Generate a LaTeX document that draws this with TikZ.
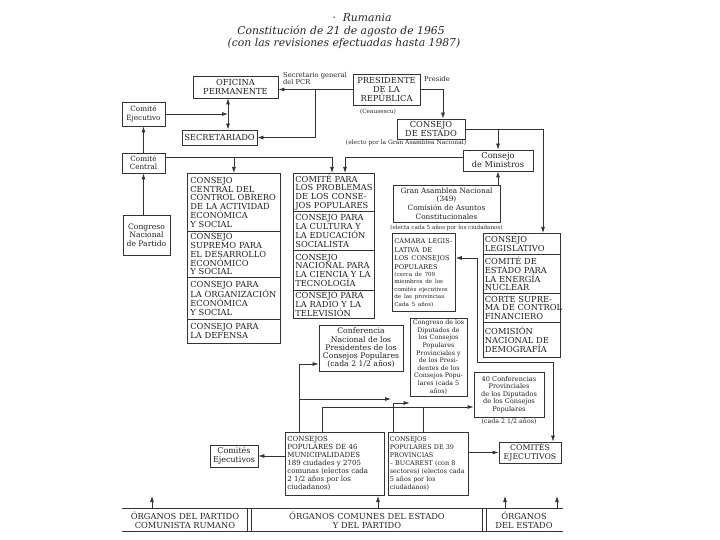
\documentclass[tikz,border=0pt]{standalone}
\usepackage{fontspec}
\setmainfont{DejaVu Serif}
\usetikzlibrary{arrows.meta,calc}
\newcommand\fsz[2]{\fontsize{#1}{#2}\selectfont\hyphenpenalty=10000 \exhyphenpenalty=10000 }
\begin{document}
\begin{tikzpicture}[x=1pt,y=-1pt,
  ln/.style={draw=black!80,line width=0.75pt},
  box/.style={ln,inner sep=0pt,align=center,text=black!88},
  capf/.style={font=\fsz{8.3}{8.8}},
  stk/.style={box,capf,align=left,anchor=north west,inner xsep=3pt,inner ysep=0pt},
  lbl/.style={text=black!85,inner sep=0pt},
  arr/.style={ln,-{Latex[length=6pt,width=4pt]}},
  darr/.style={ln,{Latex[length=6pt,width=4pt]}-{Latex[length=6pt,width=4pt]}},
]
\useasboundingbox (0,0) rectangle (720,540);
\fill[white] (0,0) rectangle (720,540);

% title
\node[lbl,font=\fsz{10.8}{12}\itshape] (t1) at (362,18) {·\ \ Rumania};
\node[lbl,font=\fsz{10.8}{12}\itshape] (t2) at (341,31) {Constitución de 21 de agosto de 1965};
\node[lbl,font=\fsz{10.8}{12}\itshape] (t3) at (344,44) {(con las revisiones efectuadas hasta 1987)};

% top boxes
\node[box,capf,minimum width=85,minimum height=22] (ofi) at (235.5,87) {OFICINA\\PERMANENTE};
\node[box,capf,minimum width=67,minimum height=31] (pres) at (386.5,89.5) {PRESIDENTE\\DE LA\\REPÚBLICA};
\node[box,font=\fsz{7.2}{8.2},minimum width=43,minimum height=24] (comej) at (143.5,114) {Comité\\Ejecutivo};
\node[box,capf,minimum width=75,minimum height=15] (secr) at (219.5,137.5) {SECRETARIADO};
\node[box,font=\fsz{7.2}{8.2},minimum width=43,minimum height=20] (comcen) at (143.5,163) {Comité\\Central};
\node[box,capf,minimum width=68,minimum height=20] (cest) at (431,129) {CONSEJO\\DE ESTADO};
\node[box,font=\fsz{8.2}{9},minimum width=70,minimum height=21] (cmin) at (498,160.5) {Consejo\\de Ministros};
\node[box,font=\fsz{7.3}{8.8},minimum width=107,minimum height=37] (gran) at (446.5,203.5) {Gran Asamblea Nacional\\(349)\\Comisión de Asuntos\\Constitucionales};
\node[box,font=\fsz{7.6}{8.6},minimum width=47,minimum height=40] (cnp) at (146.5,235) {Congreso\\Nacional\\de Partido};

% labels
\node[lbl,font=\fsz{6.7}{7.4},anchor=north west,align=left] (sg) at (283,72) {Secretario general\\del PCR};
\node[lbl,font=\fsz{6.7}{7.4},anchor=west] (presl) at (424,79) {Preside};
\node[lbl,font=\fsz{5.8}{6.5}] (ceau) at (378,112) {(Ceausescu)};
\node[lbl,font=\fsz{6}{7}] (elec) at (406,143) {(electo por la Gran Asamblea Nacional)};
\node[lbl,font=\fsz{5.6}{6.5}] (elga) at (446.5,228) {(electa cada 5 años por los ciudadanos)};

% stack A
\node[stk,text width=87,minimum height=58] (a1) at (187,173) {CONSEJO\\CENTRAL~DEL\\CONTROL~OBRERO\\DE~LA~ACTIVIDAD\\ECONÓMICA\\Y~SOCIAL};
\node[stk,text width=87,minimum height=46] (a2) at (187,231) {CONSEJO\\SUPREMO~PARA\\EL~DESARROLLO\\ECONÓMICO\\Y~SOCIAL};
\node[stk,text width=87,minimum height=42] (a3) at (187,277) {CONSEJO~PARA\\LA~ORGANIZACIÓN\\ECONÓMICA\\Y~SOCIAL};
\node[stk,text width=87,minimum height=24] (a4) at (187,319) {CONSEJO~PARA\\LA~DEFENSA};

% stack B
\node[stk,inner xsep=2pt,text width=77,minimum height=38] (b1) at (293,173) {COMITÉ~PARA\\LOS~PROBLEMAS\\DE~LOS~CONSE-\\JOS~POPULARES};
\node[stk,inner xsep=2pt,text width=77,minimum height=39] (b2) at (293,211) {CONSEJO~PARA\\LA~CULTURA~Y\\LA~EDUCACIÓN\\SOCIALISTA};
\node[stk,inner xsep=2pt,text width=77,minimum height=40] (b3) at (293,250) {CONSEJO\\NACIONAL~PARA\\LA~CIENCIA~Y~LA\\TECNOLOGÍA};
\node[stk,inner xsep=2pt,text width=77,minimum height=28] (b4) at (293,290) {CONSEJO~PARA\\LA~RADIO~Y~LA\\TELEVISIÓN};

% stack C
\node[stk,inner xsep=1.5pt,text width=74,minimum height=21] (c1) at (483,233) {CONSEJO\\LEGISLATIVO};
\node[stk,inner xsep=1.5pt,text width=74,minimum height=39] (c2) at (483,254) {COMITÉ~DE\\ESTADO~PARA\\LA~ENERGÍA\\NUCLEAR};
\node[stk,inner xsep=1.5pt,text width=74,minimum height=29] (c3) at (483,293) {CORTE~SUPRE-\\MA~DE~CONTROL\\FINANCIERO};
\node[stk,inner xsep=1.5pt,text width=74,minimum height=35] (c4) at (483,322) {COMISIÓN\\NACIONAL~DE\\DEMOGRAFÍA};

% camara
\node[stk,inner xsep=2pt,text width=59,minimum height=78] (camara) at (392,233)
  {{\fsz{6.6}{8.4}CÁMARA~LEGIS-\\LATIVA~DE\\LOS~CONSEJOS\\POPULARES\par}{\fsz{5.6}{7.4}(cerca~de~709\\miembros~de~los\\comités~ejecutivos\\de~las~provincias.\\Cada~5~años)\par}};

% conferences
\node[box,font=\fsz{7.7}{8.3},minimum width=84,minimum height=46] (conf) at (361,348) {Conferencia\\Nacional de los\\Presidentes de los\\Consejos Populares\\(cada 2 1/2 años)};
\node[box,font=\fsz{6.3}{7.6},minimum width=57,minimum height=78] (congdip) at (438.5,357) {Congreso de los\\Diputados de\\los Consejos\\Populares\\Provinciales y\\de los Presi-\\dentes de los\\Consejos Popu-\\lares (cada 5\\años)};
\node[box,font=\fsz{6.6}{7.5},minimum width=70,minimum height=45] (conf40) at (509,394.5) {40 Conferencias\\Provinciales\\de los Diputados\\de los Consejos\\Populares};
\node[lbl,font=\fsz{6.3}{7}] (c40l) at (509,422) {(cada 2 1/2 años)};

% consejos populares
\node[stk,font=\fsz{7}{8},inner xsep=2pt,text width=95,minimum height=63] (c46) at (285,432) {CONSEJOS\\POPULARES~DE~46\\MUNICIPALIDADES\\189~ciudades~y~2705\\comunas~(electos~cada\\2~1/2~años~por~los\\ciudadanos)};
\node[stk,font=\fsz{6.4}{8},inner xsep=1.5pt,text width=77,minimum height=63] (c39) at (388,432) {CONSEJOS\\POPULARES~DE~39\\PROVINCIAS\\–~BUCAREST~(con~8\\sectores)~(electos~cada\\5~años~por~los\\ciudadanos)};
\node[box,font=\fsz{8}{9},minimum width=48,minimum height=22] (cejL) at (234,456) {Comités\\Ejecutivos};
\node[box,font=\fsz{7.8}{8.8},minimum width=62,minimum height=21] (cejR) at (530,452.5) {COMITÉS\\EJECUTIVOS};

% bottom band
\node[minimum width=441,minimum height=22,inner sep=0pt] (band) at (342.5,520) {};
\draw[ln] (band.north west) -- (band.north east);
\draw[ln] (band.south west) -- (band.south east);
\draw[ln] (247,509) -- (247,531);
\draw[ln] (251,509) -- (251,531);
\draw[ln] (482,509) -- (482,531);
\draw[ln] (486,509) -- (486,531);
\node[lbl,capf,align=center] (o1) at (185,520) {ÓRGANOS DEL PARTIDO\\COMUNISTA RUMANO};
\node[lbl,capf,align=center] (o2) at (367,520) {ÓRGANOS COMUNES DEL ESTADO\\Y DEL PARTIDO};
\node[lbl,capf,align=center] (o3) at (524,520) {ÓRGANOS\\DEL ESTADO};
\coordinate (u1) at (152,496);
\coordinate (u2) at (378,496);
\coordinate (u3) at (505,496);
\coordinate (u4) at (557,496);
\foreach \u in {u1,u2,u3,u4} \draw[arr] (band.north -| \u) -- (\u);

% connectors top
\coordinate (j1) at (315,89.5);
\draw[arr] (pres.west) -- (ofi.east |- pres.west);
\draw[arr] (j1) |- (secr.east);
\coordinate (dA) at (228,114);
\draw[arr] (comej.east) -- (dA);
\draw[darr] (ofi.south -| dA) -- (secr.north -| dA);
\draw[arr] (comcen.north) -- (comej.south);
\draw[arr] (comcen.south |- cnp.north) -- (comcen.south);
\coordinate (h1) at (332,157);
\draw[arr] (comcen.east |- h1) -| (b1.north -| h1);
\draw[arr] (a1.north |- h1) -- (a1.north);
\coordinate (h2) at (345,157);
\draw[arr] (cmin.west |- h2) -| (b1.north -| h2);
\coordinate (h3) at (443,89.5);
\draw[arr] (pres.east) -- (h3) -- (cest.north -| h3);
\coordinate (h4) at (543,129);
\draw[arr] (cest.east) -- (h4) -- (c1.north -| h4);
\draw[arr] (cmin.north |- cest.east) -- (cmin.north);
\draw[arr] (cmin.south |- gran.north) -- (cmin.south);

% camara / comites path
\coordinate (yk) at (0,258);
\coordinate (k1) at (477,362);
\coordinate (k2) at (553,362);
\draw[darr] (camara.east |- yk) -| (k1) -- (k2) -- (cejR.north -| k2);

% lower connectors
\coordinate (m1) at (299,364);
\draw[arr] (c46.north -| m1) -- (m1) -- (conf.west |- m1);
\coordinate (m2) at (299,399);
\coordinate (m3) at (391,399);
\draw[arr] (m2) -- (m3);
\coordinate (m4) at (322,407);
\draw[arr] (c46.north -| m4) -- (m4) -- (conf40.west |- m4);
\coordinate (m5) at (393,403);
\draw[arr] (c39.north -| m5) -- (m5) -- (congdip.west |- m5);
\coordinate (m6) at (423,407);
\draw[ln] (c39.north -| m6) -- (m6);
\draw[arr] (c39.east |- cejR.west) -- (cejR.west);
\draw[arr] (c46.west |- cejL.east) -- (cejL.east);
\end{tikzpicture}
\end{document}
